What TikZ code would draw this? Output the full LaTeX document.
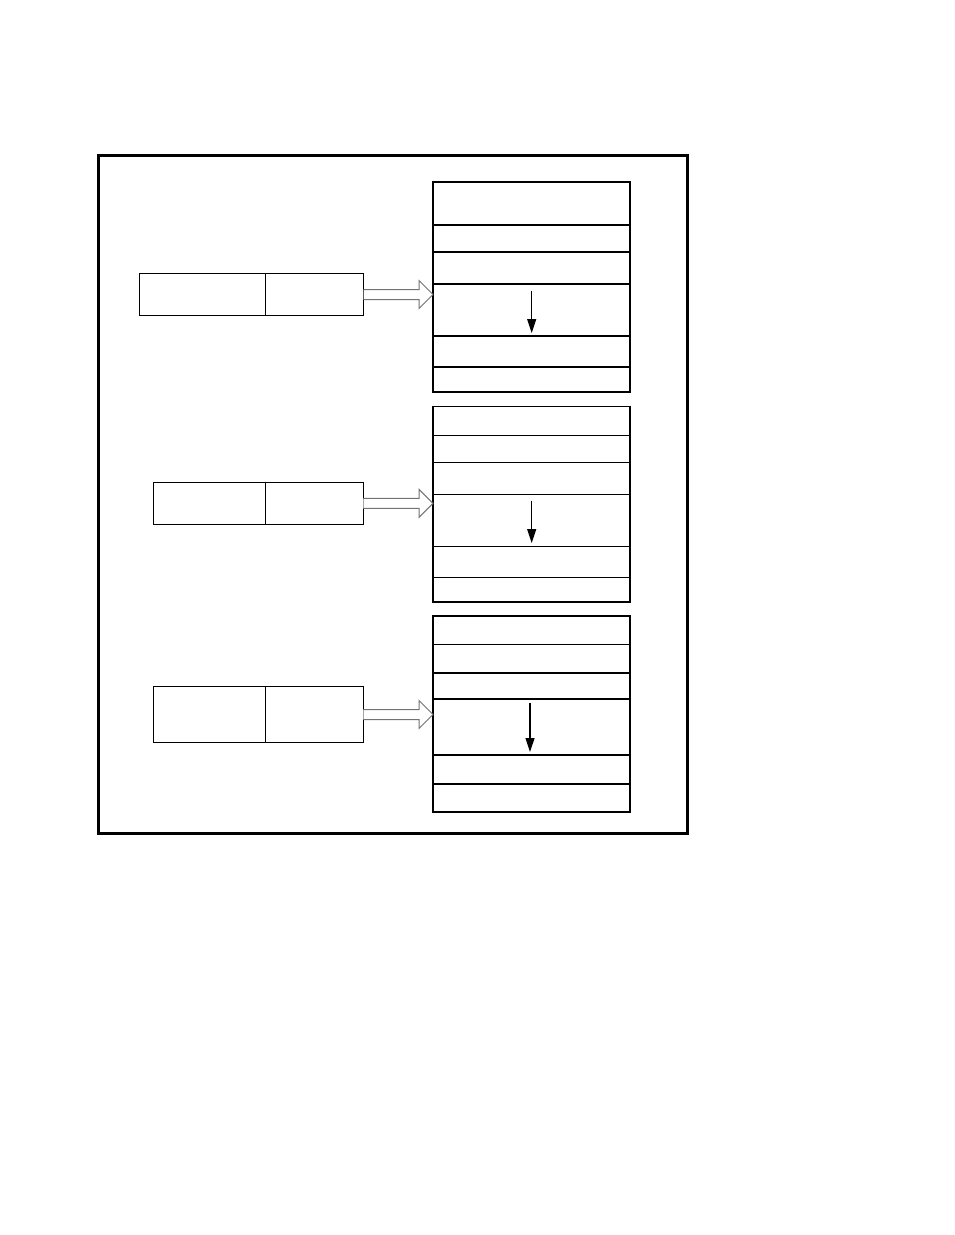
\documentclass[tikz,border=0pt]{standalone}
\usetikzlibrary{arrows.meta,calc}
\begin{document}
\begin{tikzpicture}[x=1pt,y=-1pt,
  row/.style={draw, line width=1.2pt, minimum width=197pt, anchor=north west, inner sep=0pt, outer sep=0pt},
  lbox/.style={draw, line width=1.2pt, anchor=north west, inner sep=0pt, outer sep=0pt},
  hollow/.style={draw=black!55, fill=white, line width=1pt, line join=miter},
  inarrow/.style={line width=1.2pt, -{Triangle[width=9pt,length=14pt]}},
  frameline/.style={line width=3pt},
  edge/.style={line width=2.2pt}]
\useasboundingbox (0,0) rectangle (954,1235);
\fill[white] (0,0) rectangle (954,1235);
\draw[frameline] (98,155) rectangle (687,833);

% ---------- stack 1 ----------
\node[row, minimum height=43pt] (a1) at (433,182) {};
\node[row, minimum height=27pt] (a2) at (433,225) {};
\node[row, minimum height=32pt] (a3) at (433,252) {};
\node[row, minimum height=52pt] (a4) at (433,284) {};
\node[row, minimum height=31pt] (a5) at (433,336) {};
\node[row, minimum height=25pt] (a6) at (433,367) {};
\draw[edge] (a1.north east) -- (a6.south east);
\node[lbox, minimum width=126pt, minimum height=42pt] (la1) at (139.5,273.5) {};
\node[lbox, minimum width=98pt, minimum height=42pt] (lb1) at (265.5,273.5) {};
\coordinate (t1) at (lb1.east -| a4.west);
\draw[hollow] ($(lb1.east)+(0,-5)$) -- ($(t1)+(-14,-5)$) -- ($(t1)+(-14,-14)$) -- (t1)
  -- ($(t1)+(-14,14)$) -- ($(t1)+(-14,5)$) -- ($(lb1.east)+(0,5)$);
\coordinate (i1s) at (531.7,290.5);
\coordinate (i1e) at (531.7,333);
\draw[inarrow] (i1s) -- (i1e);

% ---------- stack 2 ----------
\node[row, minimum height=29pt] (b1) at (433,406.3) {};
\node[row, minimum height=27pt] (b2) at (433,435.3) {};
\node[row, minimum height=32pt] (b3) at (433,462.3) {};
\node[row, minimum height=52pt] (b4) at (433,494.3) {};
\node[row, minimum height=31pt] (b5) at (433,546.3) {};
\node[row, minimum height=24.7pt] (b6) at (433,577.3) {};
\draw[edge] (b1.north east) -- (b6.south east);
\node[lbox, minimum width=112pt, minimum height=42pt] (la2) at (153.3,482.3) {};
\node[lbox, minimum width=98pt, minimum height=42pt] (lb2) at (265.3,482.3) {};
\coordinate (t2) at (lb2.east -| b4.west);
\draw[hollow] ($(lb2.east)+(0,-5)$) -- ($(t2)+(-14,-5)$) -- ($(t2)+(-14,-14)$) -- (t2)
  -- ($(t2)+(-14,14)$) -- ($(t2)+(-14,5)$) -- ($(lb2.east)+(0,5)$);
\coordinate (i2s) at (531.7,500.5);
\coordinate (i2e) at (531.7,543);
\draw[inarrow] (i2s) -- (i2e);

% ---------- stack 3 ----------
\node[row, minimum height=28.3pt] (c1) at (433,616) {};
\node[row, minimum height=28.4pt] (c2) at (433,644.3) {};
\node[row, minimum height=26.6pt, line width=2pt] (c3) at (433,672.7) {};
\node[row, minimum height=56pt, line width=2pt] (c4) at (433,699.3) {};
\node[row, minimum height=28.7pt] (c5) at (433,755.3) {};
\node[row, minimum height=28pt] (c6) at (433,784) {};
\draw[edge] (c1.north east) -- (c6.south east);
\node[lbox, minimum width=112pt, minimum height=55.6pt] (la3) at (153.3,686.7) {};
\node[lbox, minimum width=98pt, minimum height=55.6pt] (lb3) at (265.3,686.7) {};
\coordinate (t3) at (lb3.east -| c4.west);
\draw[hollow] ($(lb3.east)+(0,-5)$) -- ($(t3)+(-14,-5)$) -- ($(t3)+(-14,-14)$) -- (t3)
  -- ($(t3)+(-14,14)$) -- ($(t3)+(-14,5)$) -- ($(lb3.east)+(0,5)$);
\coordinate (i3s) at (530,703);
\coordinate (i3e) at (530,752);
\draw[inarrow] (i3s) -- (i3e);
\end{tikzpicture}
\end{document}
